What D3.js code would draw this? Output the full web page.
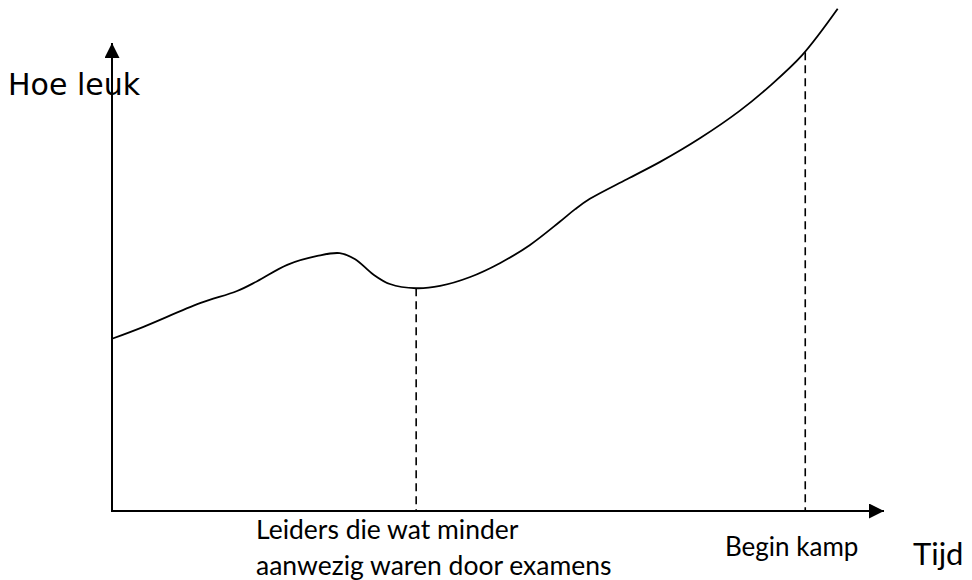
<!DOCTYPE html>
<html>
<head>
<meta charset="utf-8">
<script src="https://cdn.jsdelivr.net/npm/d3@7.9.0/dist/d3.min.js"></script>
<style>
  html, body { margin: 0; padding: 0; background: #fff; }
  svg { display: block; }
  .lbl { font-family: Lato, "Open Sans", sans-serif; fill: #000; }
</style>
</head>
<body>
<svg width="972" height="580"></svg>
<script>
// time (0-100) and "fun" (0-100)
const tijd = [0, 4.0, 11.4, 16.2, 18.8, 22.7, 26.6, 29.5, 31.5, 33.8, 36.0, 39.4, 42.5, 46.4,
  50.3, 54.1, 58.0, 60.0, 61.9, 66.7, 71.0, 76.2, 81.3, 85.2, 89.4, 94.0];
const leuk = [36.8, 39.3, 44.4, 47.0, 49.1, 52.6, 54.5, 55.1, 53.8, 50.6, 48.5, 47.6, 48.1, 50.0,
  53.0, 56.8, 61.8, 64.5, 66.7, 70.9, 74.6, 79.7, 85.5, 90.8, 97.4, 107.3];

// moments marked with a dashed line
const momenten = [
  { t: 39.4, f: 47.6 },
  { t: 89.8, f: 98.0 }
];

const svg = d3.select("svg");

const x = d3.scaleLinear().domain([0, 100]).range([112, 884]);
const y = d3.scaleLinear().domain([0, 100]).range([511, 43]);

const defs = svg.append("defs");
defs.append("marker")
  .attr("id", "pijl")
  .attr("viewBox", "0 0 10 10")
  .attr("refX", 10).attr("refY", 5)
  .attr("markerUnits", "userSpaceOnUse")
  .attr("markerWidth", 15).attr("markerHeight", 15)
  .attr("orient", "auto")
  .append("path")
  .attr("d", "M0,0 L10,5 L0,10 Z")
  .attr("fill", "#000");

// axes
svg.append("line")
  .attr("x1", x(0)).attr("y1", y(0) + 1)
  .attr("x2", x(0)).attr("y2", y(100))
  .attr("stroke", "#000").attr("stroke-width", 2)
  .attr("marker-end", "url(#pijl)");
svg.append("line")
  .attr("x1", x(0) - 1).attr("y1", y(0))
  .attr("x2", x(100)).attr("y2", y(0))
  .attr("stroke", "#000").attr("stroke-width", 2)
  .attr("marker-end", "url(#pijl)");

// dashed drop lines
svg.selectAll(".drop")
  .data(momenten)
  .join("line")
  .attr("class", "drop")
  .attr("x1", d => x(d.t)).attr("x2", d => x(d.t))
  .attr("y1", d => y(d.f)).attr("y2", y(0))
  .attr("stroke", "#000").attr("stroke-width", 1.6)
  .attr("stroke-dasharray", "8,5");

// curve
const punten = tijd.map((t, i) => [t, leuk[i]]);
const lijn = d3.line()
  .x(d => x(d[0]))
  .y(d => y(d[1]))
  .curve(d3.curveCatmullRom.alpha(0.5));
svg.append("path")
  .attr("d", lijn(punten))
  .attr("fill", "none")
  .attr("stroke", "#000")
  .attr("stroke-width", 1.8);

// labels
svg.append("text")
  .attr("x", 8).attr("y", 95)
  .style("font-family", "'DejaVu Sans', sans-serif")
  .style("font-size", "30px")
  .text("Hoe leuk");

svg.append("text").attr("class", "lbl")
  .attr("x", 913).attr("y", 565)
  .style("font-size", "31px")
  .text("Tijd");

svg.append("text").attr("class", "lbl")
  .attr("x", 256).attr("y", 539)
  .style("font-size", "26.5px")
  .text("Leiders die wat minder");
svg.append("text").attr("class", "lbl")
  .attr("x", 256).attr("y", 575)
  .style("font-size", "26.5px")
  .text("aanwezig waren door examens");

svg.append("text").attr("class", "lbl")
  .attr("x", 725).attr("y", 556)
  .style("font-size", "26px")
  .text("Begin kamp");
</script>
</body>
</html>
